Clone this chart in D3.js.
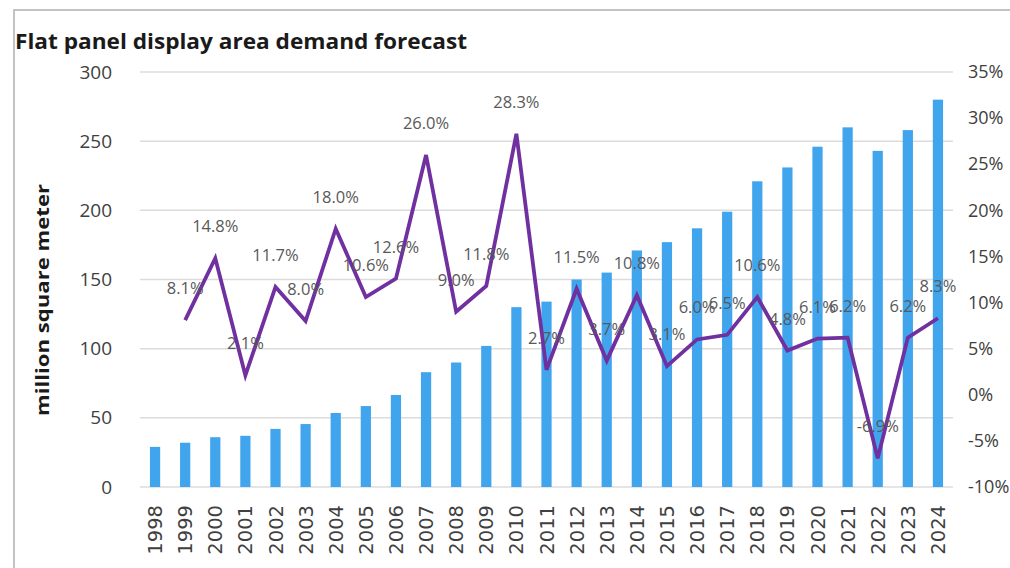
<!DOCTYPE html>
<html><head><meta charset="utf-8">
<script src="https://cdn.jsdelivr.net/npm/d3@7"></script>
<style>body{margin:0;background:#fff}svg{display:block}</style>
</head><body>
<script>
const years = ["1998","1999","2000","2001","2002","2003","2004","2005","2006","2007","2008","2009","2010","2011","2012","2013","2014","2015","2016","2017","2018","2019","2020","2021","2022","2023","2024"];
const demand = [29,32,36,37,42,45.5,53.5,58.5,66.5,83,90,102,130,134,150,155,171,177,187,199,221,231,246,260,243,258,280];
const growthYears = ["1999","2000","2001","2002","2003","2004","2005","2006","2007","2008","2009","2010","2011","2012","2013","2014","2015","2016","2017","2018","2019","2020","2021","2022","2023","2024"];
const growth = [8.1,14.8,2.1,11.7,8.0,18.0,10.6,12.6,26.0,9.0,11.8,28.3,2.7,11.5,3.7,10.8,3.1,6.0,6.5,10.6,4.8,6.1,6.2,-6.9,6.2,8.3];
const leftTicks = [0,50,100,150,200,250,300];
const rightTicks = [-10,-5,0,5,10,15,20,25,30,35];
const title = "Flat panel display area demand forecast";
const yTitle = "million square meter";

const W = 1010, H = 568;
const svg = d3.select("body").append("svg").attr("width", W).attr("height", H);

// frame
svg.append("path").attr("d", "M14,568 L14,10 L1010,10").attr("fill","none").attr("stroke","#b0b0b0").attr("stroke-width",1.5);

const x = d3.scaleBand().domain(years).range([140, 953]).paddingInner(0.66).paddingOuter(0.33);
const y = d3.scaleLinear().domain([0,300]).range([487, 72]);
const y2 = d3.scaleLinear().domain([-10,35]).range([487, 72]);

// gridlines
svg.append("g").selectAll("line").data(leftTicks).join("line")
  .attr("x1",140).attr("x2",953).attr("y1",d=>y(d)).attr("y2",d=>y(d))
  .attr("stroke","#dcdcdc").attr("stroke-width",1.5);

// bars
svg.append("g").selectAll("rect").data(years).join("rect")
  .attr("x",d=>x(d)).attr("width",x.bandwidth())
  .attr("y",(d,i)=>y(demand[i])).attr("height",(d,i)=>y(0)-y(demand[i]))
  .attr("fill","#41A5EE");

// left axis
const la = svg.append("g").attr("transform","translate(112,0)").call(d3.axisLeft(y).tickValues(leftTicks).tickSize(0).tickPadding(0));
la.select(".domain").remove();
la.selectAll("text").attr("font-family","Open Sans, sans-serif").attr("font-size",19).attr("fill","#404040");

// right axis
const ra = svg.append("g").attr("transform","translate(968,0)").call(d3.axisRight(y2).tickValues(rightTicks).tickSize(0).tickPadding(0).tickFormat(d=>d+"%"));
ra.select(".domain").remove();
ra.selectAll("text").attr("font-family","Open Sans, sans-serif").attr("font-size",18).attr("fill","#404040");

// x axis
const xa = svg.append("g").attr("transform","translate(0,505)").call(d3.axisBottom(x).tickSize(0).tickPadding(0));
xa.select(".domain").remove();
xa.selectAll("text").attr("font-family","DejaVu Sans, sans-serif").attr("font-size",19.5).attr("fill","#404040")
  .attr("transform","rotate(-90)").attr("text-anchor","end").attr("dx",0).attr("dy","0.36em").attr("x",0).attr("y",0);

// line
const cx = d => x(d) + x.bandwidth()/2;
const line = d3.line().x((d,i)=>cx(growthYears[i])).y(d=>y2(d));
svg.append("path").datum(growth).attr("d",line).attr("fill","none")
  .attr("stroke","#7030A0").attr("stroke-width",3.8).attr("stroke-linejoin","miter");

// labels
svg.append("g").selectAll("text").data(growth).join("text")
  .attr("x",(d,i)=>cx(growthYears[i])).attr("y",d=>y2(d)-26)
  .attr("text-anchor","middle").attr("font-family","Open Sans, sans-serif").attr("font-size",16.5)
  .attr("fill","#595959").text(d=>d.toFixed(1)+"%");

// title
svg.append("text").attr("x",15).attr("y",49).attr("font-family","Open Sans, sans-serif")
  .attr("font-weight","bold").attr("font-size",22).attr("fill","#1a1a1a").attr("textLength",452).attr("lengthAdjust","spacingAndGlyphs").text(title);

// y title
svg.append("text").attr("transform","translate(49,300) rotate(-90)").attr("text-anchor","middle")
  .attr("font-family","Open Sans, sans-serif").attr("font-weight","bold").attr("font-size",18).attr("fill","#1a1a1a")
  .attr("textLength",232).attr("lengthAdjust","spacingAndGlyphs").text(yTitle);
</script>
</body></html>
